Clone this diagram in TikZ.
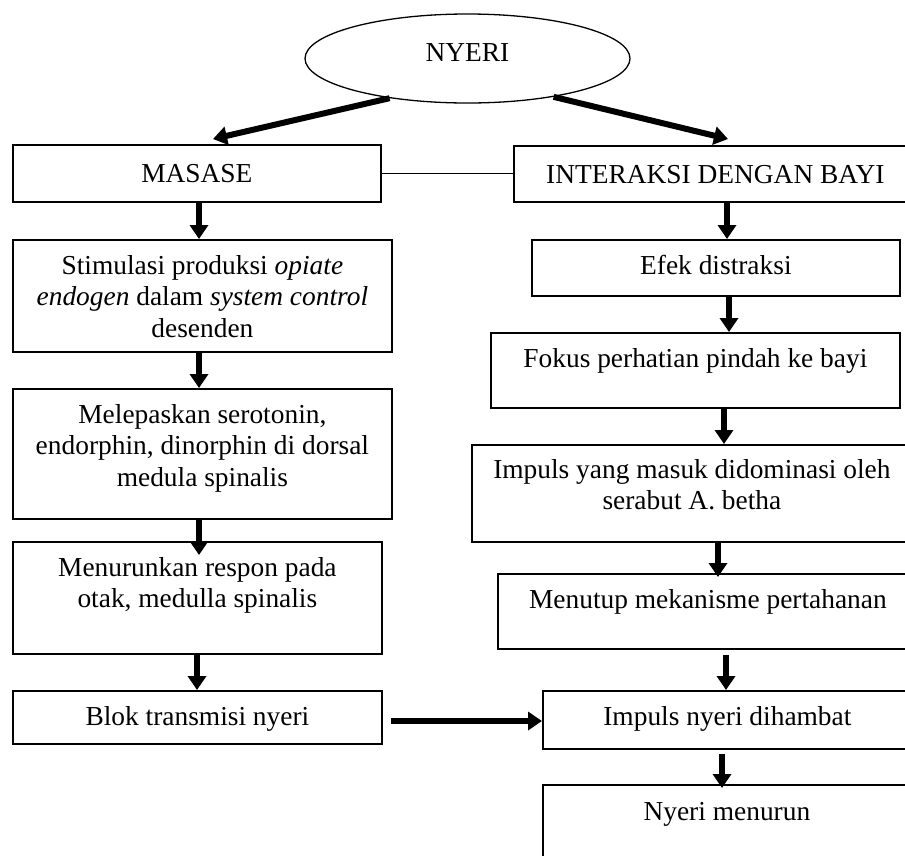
\documentclass[tikz,border=0pt]{standalone}
\usepackage{fontspec}
\setmainfont{Liberation Serif}
\usetikzlibrary{shapes.geometric,arrows.meta,calc}
\tikzset{
  box/.style={draw, line width=1.8pt, rectangle, inner sep=0pt, anchor=north west},
  txt/.style={anchor=north, inner sep=0pt, align=center, font=\fontsize{27.4}{31.5}\selectfont},
  arr/.style={line width=6pt, -{Triangle[length=14pt,width=18pt]}},
  thinline/.style={line width=1.3pt},
}
\begin{document}
\begin{tikzpicture}[x=1pt,y=-1pt]
\useasboundingbox (0,0) rectangle (905,855);
\clip (0,0) rectangle (905,855);
% ellipse
\node[draw, ellipse, line width=1.3pt, minimum width=325pt, minimum height=89pt, inner sep=0pt] (ny) at (467.5,58.5) {};
\node[txt, anchor=base] (nyt) at (467.5,61) {NYERI};
% left column boxes
\node[box, minimum width=368pt, minimum height=57pt] (L1) at (12,144) {};
\node[box, minimum width=379pt, minimum height=112pt] (L2) at (12,239) {};
\node[box, minimum width=379pt, minimum height=130pt] (L3) at (12,388) {};
\node[box, minimum width=369pt, minimum height=112pt] (L4) at (12,541) {};
\node[box, minimum width=369pt, minimum height=53pt] (L5) at (12,690) {};
% right column boxes
\node[box, minimum width=403pt, minimum height=56pt] (R1) at (513,145) {};
\node[box, minimum width=368pt, minimum height=56pt] (R2) at (531,239) {};
\node[box, minimum width=409pt, minimum height=75pt] (R3) at (490,332) {};
\node[box, minimum width=440pt, minimum height=97pt] (R4) at (471,444) {};
\node[box, minimum width=420pt, minimum height=75pt] (R5) at (497,573) {};
\node[box, minimum width=369pt, minimum height=58pt] (R6) at (542,690) {};
\node[box, minimum width=368pt, minimum height=100pt] (R7) at (542,784) {};
% texts
\node[txt] (tL1) at ($(L1.north)+(0,16)$) {\strut MASASE};
\node[txt] (tL2) at ($(L2.north)+(0,13)$) {\strut Stimulasi produksi \textit{opiate}\\ \textit{endogen} dalam \textit{system control}\\ desenden};
\node[txt] (tL3) at ($(L3.north)+(0,13)$) {\strut Melepaskan serotonin,\\ endorphin, dinorphin di dorsal\\ medula spinalis};
\node[txt] (tL4) at ($(L4.north)+(0,13)$) {\strut Menurunkan respon pada\\ otak, medulla spinalis};
\node[txt] (tL5) at ($(L5.north)+(0,13)$) {\strut Blok transmisi nyeri};
\node[txt] (tR1) at ($(R1.north)+(0,16)$) {\strut INTERAKSI DENGAN BAYI};
\node[txt] (tR2) at ($(R2.north)+(0,13)$) {\strut Efek distraksi};
\node[txt] (tR3) at ($(R3.north)+(0,13)$) {\strut Fokus perhatian pindah ke bayi};
\node[txt] (tR4) at ($(R4.north)+(0,12)$) {\strut Impuls yang masuk didominasi oleh\\ serabut A. betha};
\node[txt] (tR5) at ($(R5.north)+(0,13)$) {\strut Menutup mekanisme pertahanan};
\node[txt] (tR6) at ($(R6.north)+(0,13)$) {\strut Impuls nyeri dihambat};
\node[txt] (tR7) at ($(R7.north)+(0,14)$) {\strut Nyeri menurun};
% connectors
\coordinate (tipL) at (213,139);
\coordinate (tipR) at (728,139);
\draw[arr] (ny.207) -- (tipL);
\draw[arr] (ny.336) -- (tipR);
\draw[thinline] (L1.east) -- (L1.east -| R1.west);
\draw[arr] (L1.south -| 199,0) -- (L2.north -| 199,0);
\draw[arr] (L2.south -| 199,0) -- (L3.north -| 199,0);
\draw[arr] (L3.south -| 199,0) -- ($(L4.north -| 199,0)+(0,14)$);
\draw[arr] (L4.south -| 197,0) -- (L5.north -| 197,0);
\draw[arr] (R1.south -| 727,0) -- (R2.north -| 727,0);
\draw[arr] (R2.south -| 729,0) -- (R3.north -| 729,0);
\draw[arr] (R3.south -| 724,0) -- (R4.north -| 724,0);
\draw[arr] (R4.south -| 718,0) -- ($(R5.north -| 718,0)+(0,4)$);
\draw[arr] ($(R5.south -| 726,0)+(0,5)$) -- (R6.north -| 726,0);
\draw[arr] ($(R6.south -| 722,0)+(0,4)$) -- ($(R7.north -| 722,0)+(0,4)$);
\coordinate (hs) at (391,721);
\draw[arr] (hs) -- (hs -| R6.west);
\end{tikzpicture}
\end{document}
